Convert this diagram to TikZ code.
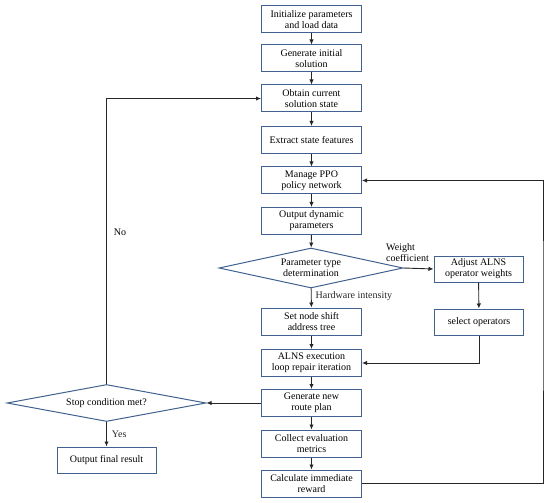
\documentclass[tikz,border=0pt]{standalone}
\usepackage{fontspec}
\setmainfont{Liberation Serif}
\usetikzlibrary{shapes.geometric,arrows.meta}
\definecolor{boxblue}{HTML}{41628F}
\begin{document}
\begin{tikzpicture}[x=1pt,y=-1pt,
    font=\fontsize{10}{11}\selectfont,
    stepbox/.style={draw=boxblue, line width=1pt, fill=white, align=center,
        minimum width=100pt, minimum height=27pt, inner sep=1pt},
    sidebox/.style={stepbox, minimum width=89pt, minimum height=26pt},
    decision/.style={diamond, draw=boxblue, line width=1pt, fill=white, align=center,
        inner sep=0pt, aspect=4.6},
    arr/.style={-{Latex[length=5pt,width=4.5pt]}, line width=0.9pt, black!85}]
    \useasboundingbox (0,0) rectangle (550,503);

    % main column
    \node[stepbox] (init) at (311.5,19.5) {Initialize parameters\\and load data};
    \node[stepbox] (gen) at (311.5,58.5) {Generate initial\\solution};
    \node[stepbox] (obtain) at (311.5,98.5) {Obtain current\\solution state};
    \node[stepbox] (extract) at (311.5,140) {Extract state features};
    \node[stepbox] (ppo) at (311.5,180.5) {Manage PPO\\policy network};
    \node[stepbox] (dyn) at (311.5,221) {Output dynamic\\parameters};
    \node[decision, minimum width=184pt, minimum height=40pt] (ptype) at (311,268) {Parameter type\\determination};
    \node[stepbox] (shift) at (311.5,321.5) {Set node shift\\address tree};
    \node[stepbox] (alns) at (311.5,363) {ALNS execution\\loop repair iteration};
    \node[stepbox] (route) at (311.5,403) {Generate new\\route plan};
    \node[stepbox] (collect) at (311.5,443.5) {Collect evaluation\\metrics};
    \node[stepbox] (reward) at (311.5,483.5) {Calculate immediate\\reward};

    % operator branch
    \node[sidebox] (adjust) at (478.5,269) {Adjust ALNS\\operator weights};
    \node[sidebox] (select) at (479,322) {select operators};

    % stop test
    \node[decision, minimum width=199pt, minimum height=37pt] (stop) at (106.5,403) {Stop condition met?};
    \node[stepbox, minimum width=99pt, minimum height=26pt] (final) at (106.5,460) {Output final result};

    \draw[arr] (init) -- (gen);
    \draw[arr] (gen) -- (obtain);
    \draw[arr] (obtain) -- (extract);
    \draw[arr] (extract) -- (ppo);
    \draw[arr] (ppo) -- (dyn);
    \draw[arr] (dyn) -- (ptype);
    \draw[arr] (ptype) -- (shift) node[pos=0.42, right, inner sep=4pt] {Hardware intensity};
    \draw[arr] (shift) -- (alns);
    \draw[arr] (alns) -- (route);
    \draw[arr] (route) -- (collect);
    \draw[arr] (collect) -- (reward);

    \draw[arr] (ptype.east) -- (adjust.west);
    \node[align=left, anchor=south west, inner sep=0pt] (wlabel) at (386,262) {Weight\\coefficient};
    \draw[arr] (adjust) -- (select);
    \draw[arr] (select.south) |- (alns.east);

    \draw[arr] (route.west) -- (stop.east);
    \draw[arr] (stop.north) |- (obtain.west);
    \node (nolabel) at (120,232) {No};
    \draw[arr] (stop.south) -- (final.north) node[midway, right, inner sep=5pt] {Yes};

    % reward feedback
    \coordinate (loopR) at (543,300);
    \draw[arr] (reward.east) -| (loopR) |- (ppo.east);
\end{tikzpicture}
\end{document}
